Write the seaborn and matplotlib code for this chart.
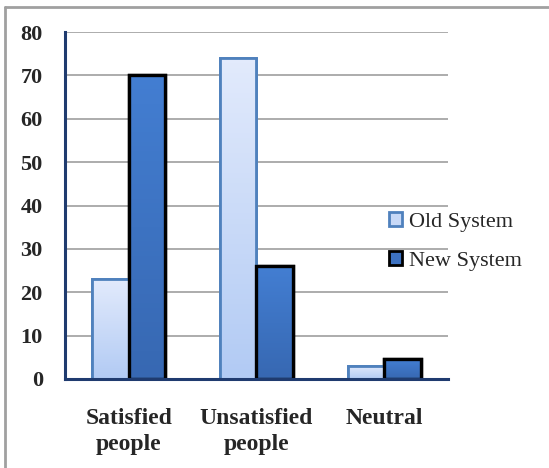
import matplotlib
matplotlib.use("Agg")
import matplotlib.pyplot as plt
from matplotlib.lines import Line2D
from matplotlib.patches import Patch
from matplotlib.colors import LinearSegmentedColormap
import numpy as np
import pandas as pd
import seaborn as sns

categories = ["Satisfied\npeople", "Unsatisfied\npeople", "Neutral"]
old_system = [23, 74, 3]
new_system = [70, 26, 4.5]
series_names = ["Old System", "New System"]
y_ticks = [0, 10, 20, 30, 40, 50, 60, 70, 80]

df = pd.DataFrame({
    "category": categories * 2,
    "value": old_system + new_system,
    "system": [series_names[0]] * 3 + [series_names[1]] * 3,
})

sns.set_theme(style="white")
plt.rcParams["font.family"] = ["Liberation Serif", "DejaVu Serif"]

old_face, old_edge = "#c8d9f7", "#4f81bd"
new_face, new_edge = "#3d72c2", "#000000"
old_grad = LinearSegmentedColormap.from_list("old", ["#b2cbf4", "#e2eafc"])
new_grad = LinearSegmentedColormap.from_list("new", ["#3768b2", "#437ed2"])
axis_col = "#1f3b6f"

fig = plt.figure(figsize=(5.49, 4.68), dpi=100)
ax = fig.add_axes([65 / 549, 1 - 379 / 468, 383 / 549, 347 / 468])

sns.barplot(data=df, x="category", y="value", hue="system",
            palette=[old_face, new_face], width=0.57, saturation=1,
            legend=False, ax=ax)

ramp = np.linspace(0, 1, 64).reshape(-1, 1)
for cont, ec, lw, cmap in zip(ax.containers, [old_edge, new_edge], [2.0, 2.4],
                              [old_grad, new_grad]):
    for p in cont.patches:
        p.set_edgecolor(ec)
        p.set_linewidth(lw)
        p.set_zorder(3)
        x0, y0 = p.get_x(), p.get_y()
        w, h = p.get_width(), p.get_height()
        im = ax.imshow(ramp, cmap=cmap, aspect="auto", origin="lower",
                       extent=(x0, x0 + w, y0, y0 + h), zorder=3.1)
        im.set_clip_path(p)
        # redraw outline above the gradient
        ax.add_patch(plt.Rectangle((x0, y0), w, h, fill=False, edgecolor=ec,
                                   linewidth=lw, zorder=3.2))

ax.set_xlim(-0.5, 2.5)
ax.set_ylim(0, 80)
ax.set_yticks(y_ticks)
ax.yaxis.grid(True, color="#a6a6a6", linewidth=1.3, zorder=0)
ax.set_axisbelow(True)

for s in ["top", "right"]:
    ax.spines[s].set_visible(False)
for s in ["left", "bottom"]:
    ax.spines[s].set_color(axis_col)
    ax.spines[s].set_linewidth(2.2)
    ax.spines[s].set_zorder(4)

ax.set_xticks([-0.5, 0.5, 1.5, 2.5], minor=True)
ax.tick_params(axis="x", which="major", length=0, pad=21)
ax.tick_params(axis="x", which="minor", length=5, width=2, color=axis_col, direction="out")
ax.tick_params(axis="y", length=4, width=2, color=axis_col, direction="out", pad=12)
ax.set_xticklabels(categories, fontsize=17, fontweight="bold", linespacing=1.3)
for t in ax.get_yticklabels():
    t.set_fontsize(16)
    t.set_fontweight("bold")
ax.set_xlabel("")
ax.set_ylabel("")

handles = [Patch(facecolor=old_face, edgecolor=old_edge, linewidth=2),
           Patch(facecolor=new_face, edgecolor=new_edge, linewidth=2)]
fig.legend(handles, series_names, loc="upper left",
           bbox_to_anchor=(389 / 549, 1 - 212 / 468), frameon=False,
           borderpad=0, borderaxespad=0,
           prop={"size": 16}, handlelength=0.6, handleheight=0.6,
           handletextpad=0.3, labelspacing=0.85)

# outer frame
fig.add_artist(Line2D([5 / 549, 5 / 549], [0, 1 - 7 / 468], color="#a0a0a0", linewidth=2))
fig.add_artist(Line2D([5 / 549, 1], [1 - 7 / 468, 1 - 7 / 468], color="#a0a0a0", linewidth=2))

fig.savefig("out.png", dpi=100)
